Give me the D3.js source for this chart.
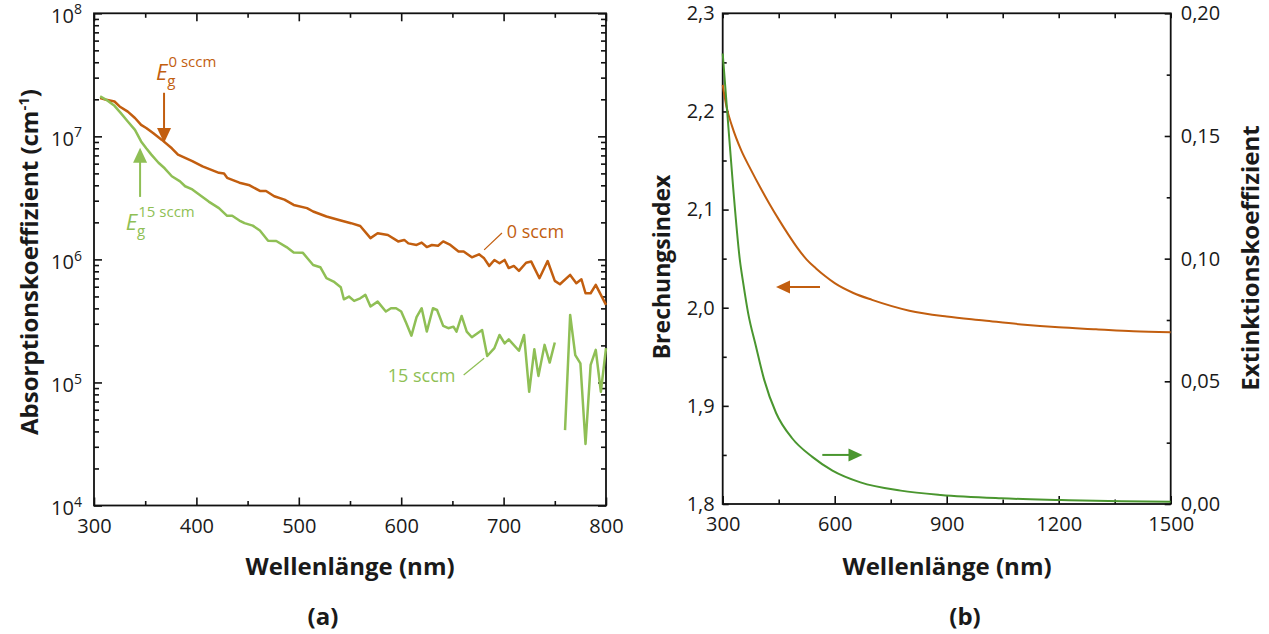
<!DOCTYPE html>
<html>
<head>
<meta charset="utf-8">
<script src="https://cdn.jsdelivr.net/npm/d3@7"></script>
<style>
  body { margin: 0; background: #fff; }
  svg text { font-family: "Open Sans", "Noto Sans", sans-serif; fill: #1a1a1a; }
</style>
</head>
<body>
<svg id="chart" width="1269" height="634"></svg>
<script>
// ---- (a) absorption coefficient, cm^-1, vs. wavelength, nm ----
const absWavelength0 = [306,312,320,325,333,340,346,351,358,366,376,382,396,406,422,427,430,442,452,462,468,476,486,495,508,514,527,541,551,560,570,577,587,597,603,607,615,620,625,630,636,641,648,656,661,669,676,681,686,691,696,701,705,710,715,722,727,735,743,750,755,765,771,776,780,785,790,800];
const absCoeff0 = [2.05e7,1.98e7,1.92e7,1.75e7,1.59e7,1.41e7,1.24e7,1.17e7,1.06e7,9.4e6,8.0e6,7.1e6,6.3e6,5.7e6,5.05e6,4.98e6,4.6e6,4.2e6,4.0e6,3.6e6,3.6e6,3.26e6,3.06e6,2.77e6,2.61e6,2.45e6,2.23e6,2.07e6,1.97e6,1.87e6,1.49e6,1.63e6,1.58e6,1.40e6,1.44e6,1.35e6,1.31e6,1.37e6,1.26e6,1.31e6,1.29e6,1.40e6,1.31e6,1.16e6,1.16e6,1.04e6,1.10e6,1.02e6,8.85e5,9.9e5,9.3e5,9.9e5,8.5e5,8.85e5,8.07e5,9.4e5,9.6e5,7.03e5,9.7e5,6.69e5,6.28e5,7.48e5,6.40e5,6.90e5,5.31e5,5.31e5,6.21e5,4.27e5];

const absWavelength15 = [306,312,320,326,333,340,346,351,356,363,369,376,384,389,396,405,412,422,430,435,442,447,455,462,470,478,488,495,504,514,521,527,534,541,544,549,554,560,565,570,577,585,590,595,600,605,610,615,620,625,631,635,641,646,651,654,659,664,669,679,684,691,696,701,705,715,720,725,730,734,740,745,750,755,760,765,770,775,780,785,790,795,800];
// null = no measured value (gap in the curve)
const absCoeff15 = [2.11e7,1.98e7,1.77e7,1.55e7,1.32e7,1.13e7,9.1e6,8.0e6,7.1e6,6.1e6,5.5e6,4.74e6,4.31e6,3.93e6,3.70e6,3.26e6,2.95e6,2.61e6,2.26e6,2.26e6,2.07e6,1.97e6,1.88e6,1.72e6,1.42e6,1.41e6,1.26e6,1.14e6,1.13e6,9.0e5,8.64e5,7.03e5,6.60e5,5.94e5,4.74e5,4.99e5,4.60e5,4.83e5,5.15e5,4.14e5,4.54e5,3.77e5,4.01e5,4.01e5,3.77e5,3.03e5,2.40e5,3.39e5,4.01e5,2.59e5,4.01e5,3.88e5,2.88e5,2.76e5,2.84e5,2.59e5,3.47e5,2.59e5,2.33e5,2.67e5,1.64e5,1.90e5,2.43e5,2.08e5,2.24e5,1.81e5,2.43e5,8.4e4,1.86e5,1.13e5,2.02e5,1.45e5,2.11e5,null,4.1e4,3.54e5,1.67e5,1.43e5,3.16e4,1.39e5,1.84e5,8.4e4,1.90e5];

const xTicksA = [300, 400, 500, 600, 700, 800];
const xMinorA = [350, 450, 550, 650, 750];
const yDecadesA = [4, 5, 6, 7, 8];

// ---- (b) optical constants vs. wavelength ----
const nWavelength = [300,310,325,350,375,400,425,450,475,500,525,550,575,600,650,700,800,900,1000,1100,1200,1300,1400,1500];
const refrIndex   = [2.227,2.205,2.185,2.160,2.141,2.123,2.106,2.090,2.075,2.061,2.049,2.040,2.032,2.025,2.015,2.008,1.997,1.991,1.987,1.983,1.980,1.978,1.976,1.975];
const kWavelength = [300,312,328,346,355,368,389,411,443,486,540,594,669,777,884,1046,1207,1369,1500];
const extCoeff    = [0.1836,0.160,0.129,0.0994,0.0900,0.0779,0.0643,0.0507,0.0371,0.0268,0.0192,0.0136,0.0088,0.00545,0.00368,0.00232,0.00163,0.00109,0.00095];

const xTicksB = [300, 600, 900, 1200, 1500];
const xMinorB = [450, 750, 1050, 1350];
const nTicks = [1.8, 1.9, 2.0, 2.1, 2.2, 2.3];
const nMinor = [1.85, 1.95, 2.05, 2.15, 2.25];
const kTicks = [0, 0.05, 0.10, 0.15, 0.20];
const kMinor = [0.025, 0.075, 0.125, 0.175];

const ORANGE = "#c25e0f";
const LIGHTGREEN = "#8fbf55";
const DARKGREEN = "#4a962f";

const svg = d3.select("#chart");

// ---------- helpers ----------
function frame(g, x0, x1, y0, y1) {
  g.append("rect").attr("x", x0).attr("y", y1).attr("width", x1 - x0).attr("height", y0 - y1)
    .attr("fill", "none").attr("stroke", "#111").attr("stroke-width", 1.8);
}
function styleAxis(sel) {
  sel.select(".domain").remove();
  sel.selectAll(".tick line").attr("stroke", "#111").attr("stroke-width", 1.6);
  sel.selectAll(".tick text").attr("font-size", 20).attr("fill", "#1a1a1a");
}
function arrowHead(g, tipX, tipY, dir, len, half, color) {
  // dir: unit vector pointing towards the tip
  const [dx, dy] = dir;
  const bx = tipX - dx * len, by = tipY - dy * len;
  const px = -dy * half, py = dx * half;
  g.append("path")
    .attr("d", `M${tipX},${tipY}L${bx + px},${by + py}L${bx - px},${by - py}Z`)
    .attr("fill", color);
}

// =================== panel (a) ===================
const xA = d3.scaleLinear().domain([300, 800]).range([94, 606]);
const yA = d3.scaleLog().domain([1e4, 1e8]).range([505.5, 13.3]);
const gA = svg.append("g");

const minorLogA = [];
for (let e = 4; e < 8; e++) for (let m = 2; m <= 9; m++) minorLogA.push(m * Math.pow(10, e));
const decadeVals = yDecadesA.map(e => Math.pow(10, e));

// bottom / top ticks
gA.append("g").attr("transform", `translate(0,${yA.range()[0]})`)
  .call(d3.axisBottom(xA).tickValues(xTicksA).tickSize(-8).tickPadding(13).tickFormat(d3.format("d")))
  .call(styleAxis);
gA.append("g").attr("transform", `translate(0,${yA.range()[0]})`)
  .call(d3.axisBottom(xA).tickValues(xMinorA).tickSize(-4.5).tickFormat(""))
  .call(styleAxis);
gA.append("g").attr("transform", `translate(0,${yA.range()[1]})`)
  .call(d3.axisTop(xA).tickValues(xTicksA).tickSize(-8).tickFormat(""))
  .call(styleAxis);
gA.append("g").attr("transform", `translate(0,${yA.range()[1]})`)
  .call(d3.axisTop(xA).tickValues(xMinorA).tickSize(-4.5).tickFormat(""))
  .call(styleAxis);

// left / right ticks
const yAxisA = gA.append("g").attr("transform", `translate(${xA.range()[0]},0)`)
  .call(d3.axisLeft(yA).tickValues(decadeVals).tickSize(-8).tickPadding(12).tickFormat(""))
  .call(styleAxis);
yAxisA.selectAll(".tick text").each(function(d) {
  const t = d3.select(this).attr("dy", "0.45em");
  t.append("tspan").text("10");
  t.append("tspan").attr("font-size", 14).attr("dy", "-0.6em").text(Math.round(Math.log10(d)));
});
gA.append("g").attr("transform", `translate(${xA.range()[0]},0)`)
  .call(d3.axisLeft(yA).tickValues(minorLogA).tickSize(-5).tickFormat(""))
  .call(styleAxis);
gA.append("g").attr("transform", `translate(${xA.range()[1]},0)`)
  .call(d3.axisRight(yA).tickValues(decadeVals).tickSize(-8).tickFormat(""))
  .call(styleAxis);
gA.append("g").attr("transform", `translate(${xA.range()[1]},0)`)
  .call(d3.axisRight(yA).tickValues(minorLogA).tickSize(-5).tickFormat(""))
  .call(styleAxis);

frame(gA, 94, 606, 505.5, 13.3);

const lineA = d3.line().defined(d => d[1] != null).x(d => xA(d[0])).y(d => yA(d[1]));
gA.append("path").datum(d3.zip(absWavelength0, absCoeff0))
  .attr("d", lineA).attr("fill", "none").attr("stroke", ORANGE).attr("stroke-width", 2.5)
  .attr("stroke-linejoin", "round");
gA.append("path").datum(d3.zip(absWavelength15, absCoeff15))
  .attr("d", lineA).attr("fill", "none").attr("stroke", LIGHTGREEN).attr("stroke-width", 2.5)
  .attr("stroke-linejoin", "round");

// band-gap markers
{
  const x0 = xA(368.4), yTail = yA(2.26e7), yTip = yA(8.85e6);
  gA.append("line").attr("x1", x0).attr("x2", x0).attr("y1", yTail).attr("y2", yTip - 12)
    .attr("stroke", ORANGE).attr("stroke-width", 2);
  arrowHead(gA, x0, yTip, [0, 1], 15, 7, ORANGE);

  const x1 = xA(345), yTail1 = yA(3.22e6), yTip1 = yA(8.07e6);
  gA.append("line").attr("x1", x1).attr("x2", x1).attr("y1", yTail1).attr("y2", yTip1 + 12)
    .attr("stroke", LIGHTGREEN).attr("stroke-width", 2);
  arrowHead(gA, x1, yTip1, [0, -1], 15, 7, LIGHTGREEN);
}
function bandGapLabel(g, x, y, sup, color) {
  const t = g.append("text").attr("x", x).attr("y", y).style("fill", color);
  t.append("tspan").attr("font-size", 22).attr("font-style", "italic").text("E");
  t.append("tspan").attr("font-size", 15).attr("dy", 6).text("g");
  t.append("tspan").attr("font-size", 15).attr("dy", -19).attr("dx", -7).text(sup);
}
bandGapLabel(gA, xA(360.5), yA(2.88e7), "0 sccm", ORANGE);
bandGapLabel(gA, xA(331), yA(1.74e6), "15 sccm", LIGHTGREEN);

// series labels with leader lines
gA.append("line").attr("x1", xA(681)).attr("y1", yA(Math.pow(10, 6.077)))
  .attr("x2", xA(698.4)).attr("y2", yA(Math.pow(10, 6.215)))
  .attr("stroke", ORANGE).attr("stroke-width", 1.2);
gA.append("text").attr("x", xA(703)).attr("y", yA(Math.pow(10, 6.225))).attr("dy", "0.35em")
  .attr("font-size", 18).style("fill", ORANGE).text("0 sccm");
gA.append("line").attr("x1", xA(661)).attr("y1", yA(Math.pow(10, 5.061)))
  .attr("x2", xA(681)).attr("y2", yA(Math.pow(10, 5.197)))
  .attr("stroke", LIGHTGREEN).attr("stroke-width", 1.2);
gA.append("text").attr("x", xA(653)).attr("y", yA(Math.pow(10, 5.058))).attr("dy", "0.35em")
  .attr("text-anchor", "end").attr("font-size", 18).style("fill", LIGHTGREEN).text("15 sccm");

// titles
gA.append("text").attr("x", 350).attr("y", 575).attr("text-anchor", "middle")
  .attr("font-size", 24).attr("font-weight", "bold").text("Wellenlänge (nm)");
{
  const t = gA.append("text").attr("transform", "translate(38,262) rotate(-90)")
    .attr("text-anchor", "middle").attr("font-size", 24).attr("font-weight", "bold");
  t.append("tspan").text("Absorptionskoeffizient (cm");
  t.append("tspan").attr("font-size", 15).attr("dy", -9).text("-1");
  t.append("tspan").attr("dy", 9).text(")");
}
gA.append("text").attr("x", 323).attr("y", 625).attr("text-anchor", "middle")
  .attr("font-size", 24).attr("font-weight", "bold").text("(a)");

// =================== panel (b) ===================
const xB = d3.scaleLinear().domain([300, 1500]).range([722.7, 1170.7]);
const yN = d3.scaleLinear().domain([1.8, 2.3]).range([504, 13.3]);
const yK = d3.scaleLinear().domain([0, 0.2]).range([504, 13.3]);
const gB = svg.append("g");
const comma = f => v => f(v).replace(".", ",");

gB.append("g").attr("transform", `translate(0,504)`)
  .call(d3.axisBottom(xB).tickValues(xTicksB).tickSize(-8).tickPadding(13).tickFormat(d3.format("d")))
  .call(styleAxis);
gB.append("g").attr("transform", `translate(0,504)`)
  .call(d3.axisBottom(xB).tickValues(xMinorB).tickSize(-4.5).tickFormat(""))
  .call(styleAxis);
gB.append("g").attr("transform", `translate(0,13.3)`)
  .call(d3.axisTop(xB).tickValues(xTicksB.concat(xMinorB)).tickSize(-5).tickFormat(""))
  .call(styleAxis);
gB.append("g").attr("transform", `translate(722.7,0)`)
  .call(d3.axisLeft(yN).tickValues(nTicks).tickSize(-6).tickPadding(8).tickFormat(comma(d3.format(".1f"))))
  .call(styleAxis);
gB.append("g").attr("transform", `translate(722.7,0)`)
  .call(d3.axisLeft(yN).tickValues(nMinor).tickSize(-4).tickFormat(""))
  .call(styleAxis);
gB.append("g").attr("transform", `translate(1170.7,0)`)
  .call(d3.axisRight(yK).tickValues(kTicks).tickSize(-6).tickPadding(10).tickFormat(comma(d3.format(".2f"))))
  .call(styleAxis);
gB.append("g").attr("transform", `translate(1170.7,0)`)
  .call(d3.axisRight(yK).tickValues(kMinor).tickSize(-4).tickFormat(""))
  .call(styleAxis);

frame(gB, 722.7, 1170.7, 504, 13.3);

gB.append("path").datum(d3.zip(nWavelength, refrIndex))
  .attr("d", d3.line().curve(d3.curveMonotoneX).x(d => xB(d[0])).y(d => yN(d[1])))
  .attr("fill", "none").attr("stroke", ORANGE).attr("stroke-width", 2);
gB.append("path").datum(d3.zip(kWavelength, extCoeff))
  .attr("d", d3.line().curve(d3.curveMonotoneX).x(d => xB(d[0])).y(d => yK(d[1])))
  .attr("fill", "none").attr("stroke", DARKGREEN).attr("stroke-width", 2);

// axis-assignment arrows
{
  const y0 = yN(2.0211), xs = xB(560.6), xt = xB(442.8);
  gB.append("line").attr("x1", xs).attr("x2", xt + 12).attr("y1", y0).attr("y2", y0)
    .attr("stroke", ORANGE).attr("stroke-width", 2);
  arrowHead(gB, xt, y0, [-1, 0], 14, 6.5, ORANGE);
  const y1 = yK(0.02), xs1 = xB(566.8), xt1 = xB(674.5);
  gB.append("line").attr("x1", xs1).attr("x2", xt1 - 12).attr("y1", y1).attr("y2", y1)
    .attr("stroke", DARKGREEN).attr("stroke-width", 2);
  arrowHead(gB, xt1, y1, [1, 0], 14, 6.5, DARKGREEN);
}

gB.append("text").attr("x", 947).attr("y", 575).attr("text-anchor", "middle")
  .attr("font-size", 24).attr("font-weight", "bold").text("Wellenlänge (nm)");
gB.append("text").attr("transform", "translate(670,267) rotate(-90)").attr("text-anchor", "middle")
  .attr("font-size", 23).attr("font-weight", "bold").text("Brechungsindex");
gB.append("text").attr("transform", "translate(1259,258) rotate(-90)").attr("text-anchor", "middle")
  .attr("font-size", 24).attr("font-weight", "bold").text("Extinktionskoeffizient");
gB.append("text").attr("x", 965).attr("y", 625).attr("text-anchor", "middle")
  .attr("font-size", 24).attr("font-weight", "bold").text("(b)");
</script>
</body>
</html>
